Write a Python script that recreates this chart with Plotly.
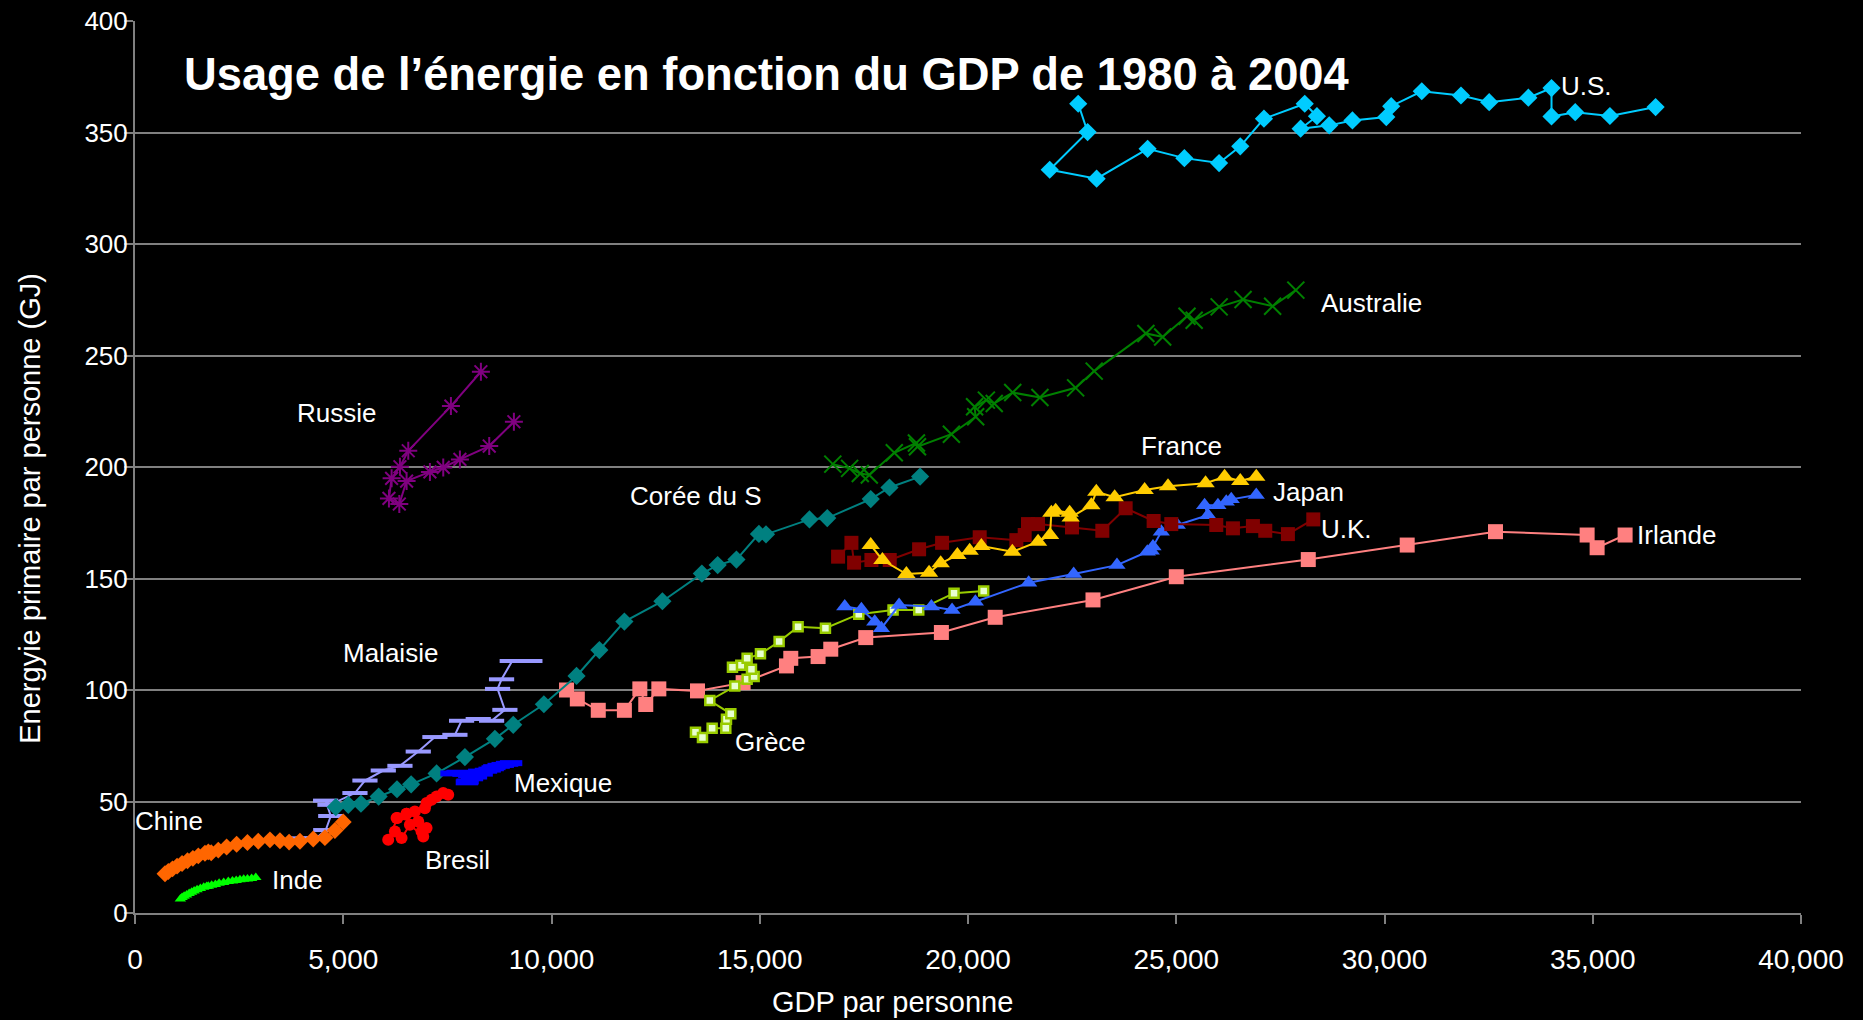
import plotly.graph_objects as go

# ---------------- data (GDP per person, primary energy per person GJ) ----------------
us_gdp = [22646, 22872, 21962, 23088, 24312, 25195, 26028, 26537, 27106, 28085, 28378, 27986, 28673,
          29230, 30043, 30161, 30895, 31836, 32513, 33454, 34010, 34010, 34579, 35412, 36509]
us_en = [362.9, 350.2, 333.3, 329.3, 342.7, 338.5, 336.3, 343.8, 356.2, 362.9, 357.3, 351.7, 353.2,
         355.4, 356.9, 361.8, 368.5, 366.6, 363.6, 365.6, 369.9, 357.2, 359.1, 357.4, 361.4]

au_gdp = [16754, 17158, 17414, 17630, 18230, 18761, 18787, 19601, 20184, 20158, 20441, 20630,
          21074, 21727, 22584, 23030, 24271, 24674, 25258, 25430, 26030, 26604, 27314, 27871]
au_en = [201.3, 199.4, 197.1, 196.4, 206.4, 210.8, 209.1, 214.7, 222.5, 227.0, 230.0, 228.5,
         233.4, 231.2, 235.5, 243.0, 259.9, 258.3, 267.6, 265.8, 271.8, 275.1, 272.1, 279.3]

kr_gdp = [4820, 5121, 5425, 5850, 6290, 6630, 7241, 7921, 8641, 9081, 9817, 10601, 11149, 11750,
          12663, 13610, 13990, 14440, 14980, 15150, 16194, 16621, 17665, 18115, 18850]
kr_en = [47.5, 48.5, 49.0, 52.2, 55.5, 57.7, 62.6, 69.9, 78.1, 84.4, 93.6, 106.3, 117.9, 130.7,
         139.8, 152.2, 156.0, 158.5, 170.0, 169.8, 176.5, 177.1, 185.6, 190.8, 195.7]

fr_gdp = [17664, 17945, 18521, 19065, 19344, 19745, 20040, 20321, 21065, 21682, 21970, 22001,
          22105, 22441, 22465, 22961, 23081, 23521, 24241, 24802, 25704, 26161, 26537, 26921]
fr_en = [165.0, 158.3, 152.0, 152.6, 156.8, 160.5, 162.5, 164.6, 162.0, 166.5, 169.5, 179.5,
         180.4, 179.5, 177.4, 182.9, 188.9, 186.4, 189.7, 191.4, 192.7, 195.6, 193.7, 195.6]

jp_gdp = [17041, 17441, 17761, 17921, 18345, 19121, 19617, 20177, 21457, 22537, 23577, 24305,
          24401, 24441, 24641, 25025, 25761, 25681, 26001, 26201, 26321, 26921]
jp_en = [137.4, 136.2, 130.6, 127.7, 138.1, 137.4, 135.9, 139.6, 148.1, 152.0, 156.0, 162.0,
         162.5, 164.3, 171.0, 174.0, 178.4, 182.9, 182.9, 184.4, 185.5, 187.4]

uk_gdp = [16881, 17201, 17265, 17681, 18121, 18826, 19378, 20281, 21161, 21361, 21441, 21681,
          22497, 23225, 23785, 24457, 24881, 25961, 26361, 26841, 27137, 27681, 28290]
uk_en = [159.8, 166.0, 157.1, 158.3, 158.3, 163.1, 166.0, 168.5, 167.2, 169.5, 174.4, 174.4,
         172.9, 171.4, 181.5, 175.8, 174.4, 174.0, 172.5, 173.5, 171.4, 169.9, 176.5]

ie_gdp = [10361, 10620, 11123, 11750, 12121, 12263, 12577, 13505, 14601, 15641, 15745, 16401,
          16705, 17545, 19361, 20653, 23001, 25001, 28170, 30545, 32665, 34865, 35105, 35777]
ie_en = [100.0, 96.0, 90.9, 90.9, 100.5, 93.5, 100.5, 99.6, 103.3, 110.8, 114.2, 115.0,
         118.3, 123.5, 125.8, 132.6, 140.4, 150.8, 158.5, 165.0, 171.0, 169.5, 163.8, 169.5]

gr_gdp = [13457, 13625, 13857, 14185, 14201, 14305, 13801, 14401, 14697, 14865, 14801, 14545,
          14345, 14697, 15017, 15465, 15921, 16577, 17377, 18201, 18817, 19665, 20377]
gr_en = [81.1, 78.7, 82.9, 82.9, 86.9, 89.3, 95.3, 101.8, 104.8, 106.0, 109.3, 111.1,
         110.2, 114.2, 116.2, 121.7, 128.4, 127.7, 134.0, 135.9, 135.9, 143.4, 144.4]

ru_gdp = [8305, 7585, 6561, 6361, 6161, 6097, 6346, 6521, 7081, 7401, 7801, 8505, 9097]
ru_en = [242.7, 227.3, 207.3, 200.1, 194.9, 185.9, 183.4, 193.7, 197.8, 199.8, 203.4, 209.4, 220.3]

my_gdp = [4050, 4350, 4580, 4700, 4577, 4681, 5281, 5521, 5961, 6361, 6801, 7201, 7681, 7841,
          8241, 8561, 8881, 8705, 8801, 9057, 9481]
my_en = [33.5, 33.5, 37.2, 43.5, 50.4, 48.5, 53.8, 59.4, 63.9, 66.0, 72.4, 78.9, 79.9, 86.2,
         87.0, 86.2, 91.1, 100.5, 104.8, 113.0, 113.0]

mx_gdp = [7600, 7745, 7889, 8026, 7985, 8090, 7969, 8186, 8323, 8266, 8427, 8515, 8628, 8588,
          8732, 8829, 8933, 9030]
mx_en = [62.6, 62.9, 62.4, 61.8, 59.0, 60.4, 58.6, 61.2, 62.5, 63.4, 63.8, 64.3, 65.4, 64.9,
         66.0, 66.4, 66.9, 67.2]

br_gdp = [6520, 6300, 6080, 6240, 6400, 6600, 6920, 6880, 7000, 6800, 6280, 6520, 6720, 6960,
          7000, 7120, 7240, 7400, 7520]
br_en = [44.5, 42.6, 32.8, 36.6, 33.6, 39.6, 34.3, 36.6, 38.1, 41.0, 42.6, 44.5, 45.5, 47.0,
         49.3, 50.8, 52.2, 53.8, 53.0]

cn_gdp = [720, 800, 900, 1010, 1130, 1260, 1390, 1520, 1680, 1760, 1830, 2000, 2200, 2440,
          2700, 2960, 3240, 3480, 3700, 3960, 4280, 4560, 4800, 5000]
cn_en = [17.6, 18.6, 19.8, 21.0, 22.2, 23.4, 24.5, 25.6, 26.8, 27.4, 27.0, 28.2, 29.6, 30.8,
         31.6, 32.2, 32.8, 32.4, 31.8, 32.2, 33.2, 33.8, 37.0, 40.8]

in_gdp = [1090, 1130, 1180, 1240, 1300, 1360, 1420, 1490, 1570, 1650, 1720, 1760, 1840, 1930,
          2020, 2130, 2240, 2340, 2430, 2520, 2610, 2700, 2800, 2900]
in_en = [6.3, 6.9, 7.5, 8.1, 8.7, 9.3, 9.9, 10.4, 11.0, 11.5, 11.9, 12.0, 12.4, 12.8,
         13.3, 13.7, 14.1, 14.4, 14.6, 14.9, 15.1, 15.3, 15.5, 15.9]

# series label texts and their anchor points
label_texts = ["U.S.", "Australie", "France", "Japan", "U.K.", "Irlande", "Corée du S", "Russie",
               "Malaisie", "Grèce", "Mexique", "Chine", "Bresil", "Inde"]
label_x = [34200, 28420, 25130, 27280, 28420, 36020, 13480, 4830, 6140, 15250, 10280, 820, 7750, 3250]
label_y = [370.9, 273.5, 209.6, 188.8, 172.3, 169.7, 186.8, 224.0, 116.4, 76.5, 58.4, 41.3, 23.8, 14.7]
label_anchor = ["left", "left", "center", "left", "left", "left", "center", "center",
                "center", "center", "center", "center", "center", "left"]

title_text = "Usage de l’énergie en fonction du GDP de 1980 à 2004"
x_title = "GDP par personne"
y_title = "Energyie primaire par personne (GJ)"
x_ticks = [0, 5000, 10000, 15000, 20000, 25000, 30000, 35000, 40000]

FONT = "Liberation Sans, Arial, sans-serif"

fig = go.Figure()

def add(x, y, color, symbol, size, mcolor=None, mline=None, mlw=0, lw=2):
    fig.add_trace(go.Scatter(
        x=x, y=y, mode="lines+markers",
        line=dict(color=color, width=lw),
        marker=dict(symbol=symbol, size=size, color=mcolor or color,
                    line=dict(color=mline or color, width=mlw)),
        showlegend=False, hoverinfo="x+y"))

add(ie_gdp, ie_en, "#FF8080", "square", 15)
add(gr_gdp, gr_en, "#99CC00", "square", 9, mcolor="#E8FFD0", mline="#99CC00", mlw=2.5)
add(jp_gdp, jp_en, "#3366FF", "triangle-up", 15)
add(uk_gdp, uk_en, "#800000", "square", 14)
add(fr_gdp, fr_en, "#FFCC00", "triangle-up", 16)
add(au_gdp, au_en, "#008000", "x-thin-open", 17, mline="#008000", mlw=2)
add(us_gdp, us_en, "#00CCFF", "diamond", 14)
add(ru_gdp, ru_en, "#800080", "asterisk-open", 15, mline="#800080", mlw=2)
add(my_gdp, my_en, "#9999FF", "line-ew-open", 18, mline="#9999FF", mlw=4)
add(br_gdp, br_en, "#FF0000", "circle", 12)
add(kr_gdp, kr_en, "#008080", "diamond", 14)
add(mx_gdp, mx_en, "#0000FF", "line-ew-open", 16, mline="#0000FF", mlw=6)
add(cn_gdp, cn_en, "#FF6600", "diamond", 13)
add(in_gdp, in_en, "#00FF00", "triangle-up", 10, mline="#00FF00", mlw=0)

for t, xx, yy, a in zip(label_texts, label_x, label_y, label_anchor):
    fig.add_annotation(x=xx, y=yy, xref="x", yref="y", text=t, showarrow=False,
                       xanchor=a, yanchor="middle",
                       font=dict(family=FONT, size=26, color="white"))

fig.add_annotation(x=0.028, y=0.94, xref="paper", yref="paper", text="<b>" + title_text + "</b>",
                   showarrow=False, xanchor="left", yanchor="middle",
                   font=dict(family=FONT, size=45.3, color="white"))

# axis titles (placed off-centre as in the original)
fig.add_annotation(x=0.4545, y=-0.10, xref="paper", yref="paper", text=x_title,
                   showarrow=False, xanchor="center", yanchor="middle",
                   font=dict(family=FONT, size=29, color="white"))
fig.add_annotation(x=-0.0632, y=0.454, xref="paper", yref="paper", text=y_title,
                   textangle=-90, showarrow=False, xanchor="center", yanchor="middle",
                   font=dict(family=FONT, size=29, color="white"))

fig.update_layout(
    width=1863, height=1020,
    margin=dict(l=135, r=62, t=21, b=107),
    paper_bgcolor="black", plot_bgcolor="black",
    font=dict(family=FONT, color="white", size=26),
    xaxis=dict(range=[0, 40000], tickvals=x_ticks, tickformat=",d", showgrid=False,
               zeroline=False, showline=True, linecolor="#808080", linewidth=2,
               ticks="outside", ticklen=9, tickwidth=2, tickcolor="#808080", automargin=False,
               tickfont=dict(family=FONT, size=28, color="white"), ticklabelstandoff=11),
    yaxis=dict(range=[0, 400], dtick=50, showgrid=True, gridcolor="#808080", gridwidth=2,
               zeroline=False, showline=True, linecolor="#808080", linewidth=2,
               ticks="outside", ticklen=9, tickwidth=2, tickcolor="#808080", automargin=False,
               tickfont=dict(family=FONT, size=26, color="white"), ticklabelstandoff=-9),
)

fig.write_html("out.html", config={"displayModeBar": False},
               post_script="document.body.style.margin='0';document.body.style.overflow='hidden';")
